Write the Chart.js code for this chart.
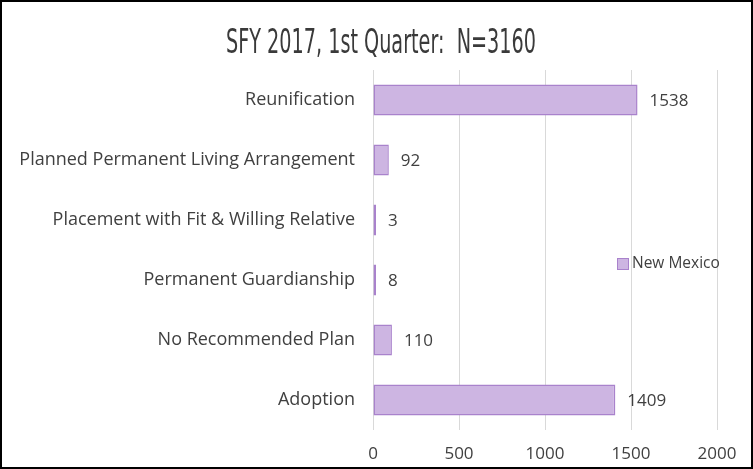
<!DOCTYPE html>
<html>
<head>
<meta charset="utf-8">
<script src="https://cdn.jsdelivr.net/npm/chart.js@4.4.1/dist/chart.umd.min.js"></script>
<style>
  html, body { margin: 0; padding: 0; background: #fff; }
  #wrap { position: relative; width: 753px; height: 469px; }
  #frame { position: absolute; left: 0; top: 0; width: 753px; height: 469px;
           box-sizing: border-box; border: 2px solid #000; pointer-events: none; }
</style>
</head>
<body>
<div id="wrap">
  <canvas id="chart" width="753" height="469"></canvas>
  <div id="frame"></div>
</div>
<script>
  // Data
  const titleText = 'SFY 2017, 1st Quarter:  N=3160';
  const categories = [
    'Reunification',
    'Planned Permanent Living Arrangement',
    'Placement with Fit & Willing Relative',
    'Permanent Guardianship',
    'No Recommended Plan',
    'Adoption'
  ];
  const seriesName = 'New Mexico';
  const values = [1538, 92, 3, 8, 110, 1409];
  const xTicks = [0, 500, 1000, 1500, 2000];

  const labelFont = '"Open Sans", "Liberation Sans", sans-serif';
  const textColor = '#404040';
  const barFill = '#cdb5e2';
  const barEdge = '#a982cc';

  // Title, value labels and the legend drawn over the chart
  const extras = {
    id: 'extras',
    afterDraw(chart) {
      const ctx = chart.ctx;
      ctx.save();

      // title, squeezed to look like a condensed face
      ctx.fillStyle = '#3a3a3a';
      ctx.font = '34px "DejaVu Sans", sans-serif';
      ctx.textAlign = 'left';
      ctx.textBaseline = 'middle';
      const tw = ctx.measureText(titleText).width;
      const sx = 310 / tw;
      ctx.translate(226, 44);
      ctx.scale(sx, 1);
      ctx.fillText(titleText, 0, 0);
      ctx.setTransform(1, 0, 0, 1, 0, 0);

      // value labels at bar ends
      ctx.font = '17px ' + labelFont;
      ctx.fillStyle = textColor;
      ctx.textAlign = 'left';
      const meta = chart.getDatasetMeta(0);
      meta.data.forEach((bar, i) => {
        ctx.fillText(String(values[i]), bar.x + 12, bar.y + 1);
      });

      // legend
      const lx = 617, ly = 264;
      ctx.fillStyle = barFill;
      ctx.strokeStyle = barEdge;
      ctx.lineWidth = 1;
      ctx.fillRect(lx, ly - 6, 12, 12);
      ctx.strokeRect(lx + 0.5, ly - 5.5, 11, 11);
      ctx.fillStyle = textColor;
      ctx.font = '15.5px ' + labelFont;
      ctx.fillText(seriesName, lx + 15, ly);

      ctx.restore();
    }
  };

  new Chart(document.getElementById('chart'), {
    type: 'bar',
    data: {
      labels: categories,
      datasets: [{
        label: seriesName,
        data: values,
        backgroundColor: barFill,
        borderColor: barEdge,
        borderWidth: 1.5,
        borderSkipped: false,
        minBarLength: 3,
        categoryPercentage: 1,
        barPercentage: 0.52
      }]
    },
    options: {
      indexAxis: 'y',
      responsive: false,
      animation: false,
      layout: { padding: { top: 70, right: 36, bottom: 0, left: 0 } },
      plugins: {
        legend: { display: false },
        tooltip: { enabled: false }
      },
      scales: {
        x: {
          min: 0,
          max: 2000,
          afterBuildTicks(scale) {
            scale.ticks = xTicks.map(v => ({ value: v }));
          },
          afterFit(scale) { scale.height = 39; },
          grid: { color: '#d9d9d9', drawTicks: false },
          border: { display: false },
          ticks: {
            padding: 14,
            color: textColor,
            font: { family: labelFont, size: 17 },
            callback: v => String(v)
          }
        },
        y: {
          afterFit(scale) { scale.width = 373; },
          grid: { display: false, drawTicks: false },
          border: { display: false },
          ticks: {
            padding: 18,
            color: textColor,
            font: { family: labelFont, size: 18 }
          }
        }
      }
    },
    plugins: [extras]
  });
</script>
</body>
</html>
